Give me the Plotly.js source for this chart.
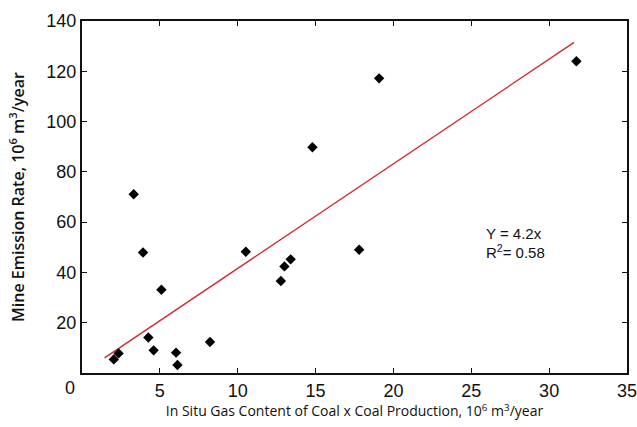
<!DOCTYPE html>
<html>
<head>
<meta charset="utf-8">
<script src="https://cdn.plot.ly/plotly-3.0.1.min.js"></script>
<style>html,body{margin:0;padding:0;background:#fff;}#chart{width:637px;height:427px;}</style>
</head>
<body>
<div id="chart"></div>
<script>
// Data
const gasProduction = [2.04, 2.35, 3.32, 3.92, 4.26, 4.6, 5.1, 6.04, 6.13, 8.22, 10.52, 12.77, 13.0, 13.4, 14.8, 17.8, 19.08, 31.75];
const emissionRate  = [5.4, 7.8, 71.1, 47.9, 14.1, 9.0, 33.1, 8.1, 3.2, 12.3, 48.2, 36.6, 42.4, 45.2, 89.8, 49.0, 117.2, 124.0];
const fitX = [1.45, 31.6];
const fitY = [6.0, 131.5];
const xTickVals = [5, 10, 15, 20, 25, 30, 35];
const xTickText = ['5', '10', '15', '20', '25', '30', '35'];
const yTickVals = [20, 40, 60, 80, 100, 120, 140];
const yTickText = ['20', '40', '60', '80', '100', '120', '140'];
const fitLabel = ['Y = 4.2x', 'R<sup>2</sup>= 0.58'];

const traces = [
  {x: fitX, y: fitY, mode: 'lines', type: 'scatter',
   line: {color: '#d8232a', width: 1.3}, hoverinfo: 'skip'},
  {x: gasProduction, y: emissionRate, mode: 'markers', type: 'scatter',
   marker: {symbol: 'diamond', size: 8, color: '#000'}}
];

const tickFont = {family: 'Liberation Sans, Arial, sans-serif', size: 18, color: '#111'};
const noteFont = {family: 'Liberation Sans, Arial, sans-serif', size: 15, color: '#111'};
const layout = {
  width: 637, height: 427,
  margin: {l: 82, r: 10, t: 21, b: 54},
  paper_bgcolor: '#fff', plot_bgcolor: '#fff',
  showlegend: false,
  xaxis: {
    range: [0, 35], tickvals: xTickVals, ticktext: xTickText,
    ticks: 'inside', ticklen: 5, tickwidth: 1.2, tickcolor: '#111',
    showline: true, linecolor: '#111', linewidth: 2, mirror: 'allticks',
    showgrid: false, zeroline: false, tickfont: tickFont, ticklabeloverflow: 'allow',
    title: {text: 'In Situ Gas Content of Coal x Coal Production, 10<sup>6</sup> m<sup>3</sup>/year',
            font: {family: 'Open Sans, sans-serif', size: 14, color: '#111'}, standoff: 6}
  },
  yaxis: {
    range: [0, 140], tickvals: yTickVals, ticktext: yTickText,
    ticks: 'inside', ticklen: 5, tickwidth: 1.2, tickcolor: '#111',
    showline: true, linecolor: '#111', linewidth: 2, mirror: 'allticks',
    showgrid: false, zeroline: false, tickfont: tickFont, ticklabeloverflow: 'allow',
    title: {text: 'Mine Emission Rate, 10<sup>6</sup> m<sup>3</sup>/year',
            font: {family: 'Open Sans, sans-serif', size: 16, color: '#111', weight: 600}, standoff: 18}
  },
  annotations: [
    {x: 0, y: 0, xref: 'x', yref: 'paper', text: '0', showarrow: false,
     xanchor: 'center', yanchor: 'top', xshift: -12, yshift: -3, font: tickFont},
    {x: 25.8, y: 55.6, xref: 'x', yref: 'y', text: fitLabel[0], showarrow: false,
     xanchor: 'left', yanchor: 'middle', font: noteFont},
    {x: 25.8, y: 48.5, xref: 'x', yref: 'y', text: fitLabel[1], showarrow: false,
     xanchor: 'left', yanchor: 'middle', font: noteFont}
  ]
};

Plotly.newPlot('chart', traces, layout, {displayModeBar: false, staticPlot: true});
</script>
</body>
</html>
